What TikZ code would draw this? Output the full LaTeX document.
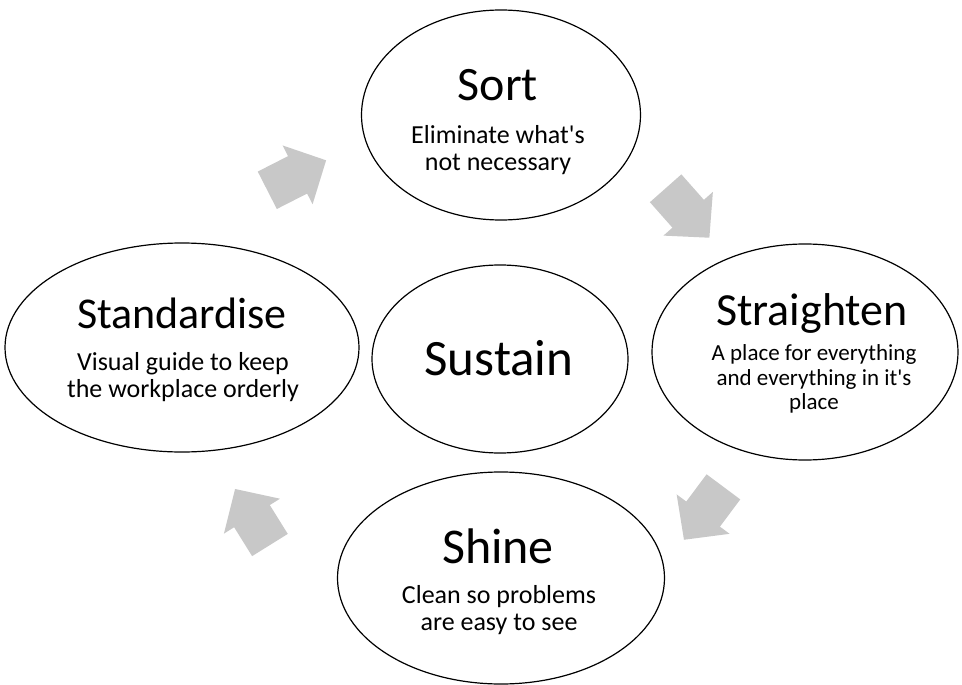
\documentclass[tikz,border=0pt]{standalone}
\usepackage{fontspec}
\setmainfont{Carlito}
\usetikzlibrary{shapes.geometric}
\definecolor{arrowgray}{RGB}{200,200,200}
\tikzset{
  stage/.style={draw=black, line width=1.2pt, ellipse, inner sep=0pt},
  title/.style={anchor=base, text=black, inner sep=0pt},
  line/.style={anchor=base, text=black, inner sep=0pt},
  blockarrow/.pic={
    \fill[arrowgray] (-33,-21) -- (1,-21) -- (1,-33) -- (33,0) -- (1,33) -- (1,21) -- (-33,21) -- cycle;
  }
}
\newcommand{\apos}{\textquotesingle}
\begin{document}
\begin{tikzpicture}[x=1pt,y=-1pt]
\useasboundingbox[fill=white] (0,0) rectangle (962,685);

% the five stages
\node[stage, minimum width=279pt, minimum height=210pt] (sort) at (501,115) {};
\node[stage, minimum width=256pt, minimum height=188pt] (sustain) at (500,359) {};
\node[stage, minimum width=354pt, minimum height=209pt] (standardise) at (182,347.5) {};
\node[stage, minimum width=306pt, minimum height=216pt] (straighten) at (805,352) {};
\node[stage, minimum width=327pt, minimum height=212pt] (shine) at (501,578) {};

% cycle arrows
\pic[rotate=27] at (296.7,175.3) {blockarrow};
\pic[rotate=-48.5] at (687.5,213) {blockarrow};
\pic[rotate=-126.7] at (703.7,513.3) {blockarrow};
\pic[rotate=121.9] at (252.5,517) {blockarrow};

% Sort
\node[title, font=\fontsize{48}{48}\selectfont] (sortT) at (498,101) {Sort};
\node[line, font=\fontsize{26}{26}\selectfont] (sortA) at (498,143) {Eliminate what\apos s};
\node[line, font=\fontsize{26}{26}\selectfont] (sortB) at (498,170) {not necessary};

% Sustain
\node[title, font=\fontsize{51}{51}\selectfont] (sustainT) at (499,375) {Sustain};

% Standardise
\node[title, font=\fontsize{44}{44}\selectfont] (stdT) at (182,328) {Standardise};
\node[line, font=\fontsize{26}{26}\selectfont] (stdA) at (183,370) {Visual guide to keep};
\node[line, font=\fontsize{26}{26}\selectfont] (stdB) at (183,397) {the workplace orderly};

% Straighten
\node[title, font=\fontsize{46}{46}\selectfont] (strT) at (812,325) {Straighten};
\node[line, font=\fontsize{23}{23}\selectfont] (strA) at (814,360) {A place for everything};
\node[line, font=\fontsize{23}{23}\selectfont] (strB) at (814,385) {and everything in it\apos s};
\node[line, font=\fontsize{23}{23}\selectfont] (strC) at (814,409) {place};

% Shine
\node[title, font=\fontsize{50}{50}\selectfont] (shineT) at (498,563) {Shine};
\node[line, font=\fontsize{26}{26}\selectfont] (shineA) at (499,603) {Clean so problems};
\node[line, font=\fontsize{26}{26}\selectfont] (shineB) at (499,630) {are easy to see};
\end{tikzpicture}
\end{document}
